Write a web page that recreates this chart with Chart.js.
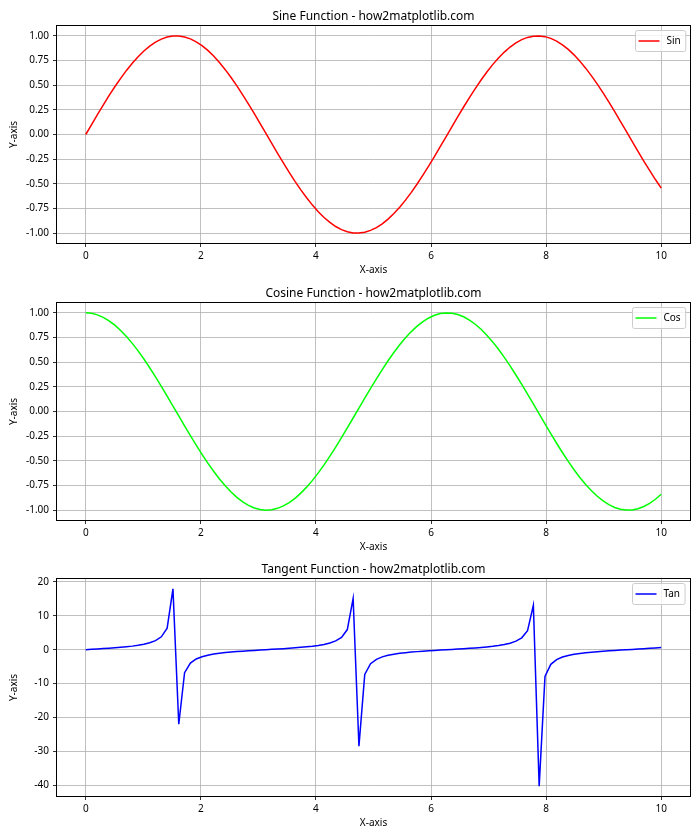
<!DOCTYPE html>
<html>
<head>
<meta charset="utf-8">
<script src="https://cdn.jsdelivr.net/npm/chart.js@4.4.0/dist/chart.umd.min.js"></script>
<style>
  body { margin: 0; background: #fff; width: 700px; height: 840px; position: relative; overflow: hidden; }
  canvas { position: absolute; left: 0; }
</style>
</head>
<body>
<canvas id="sinChart" width="700" height="277" style="top:0px"></canvas>
<canvas id="cosChart" width="700" height="277" style="top:277px"></canvas>
<canvas id="tanChart" width="700" height="277" style="top:553px"></canvas>
<script>
// x positions (0..10, 100 samples)
var xs = [
  0, 0.101, 0.202, 0.303, 0.404, 0.505, 0.606, 0.707, 0.808, 0.909,
  1.010, 1.111, 1.212, 1.313, 1.414, 1.515, 1.616, 1.717, 1.818, 1.919,
  2.020, 2.121, 2.222, 2.323, 2.424, 2.525, 2.626, 2.727, 2.828, 2.929,
  3.030, 3.131, 3.232, 3.333, 3.434, 3.535, 3.636, 3.737, 3.838, 3.939,
  4.040, 4.141, 4.242, 4.343, 4.444, 4.545, 4.646, 4.747, 4.848, 4.949,
  5.051, 5.152, 5.253, 5.354, 5.455, 5.556, 5.657, 5.758, 5.859, 5.960,
  6.061, 6.162, 6.263, 6.364, 6.465, 6.566, 6.667, 6.768, 6.869, 6.970,
  7.071, 7.172, 7.273, 7.374, 7.475, 7.576, 7.677, 7.778, 7.879, 7.980,
  8.081, 8.182, 8.283, 8.384, 8.485, 8.586, 8.687, 8.788, 8.889, 8.990,
  9.091, 9.192, 9.293, 9.394, 9.495, 9.596, 9.697, 9.798, 9.899, 10.000
];

var sinValues = [
  0, 0.1008, 0.2007, 0.2984, 0.3931, 0.4839, 0.5696, 0.6496, 0.7230, 0.7890,
  0.8469, 0.8962, 0.9364, 0.9670, 0.9878, 0.9985, 0.9990, 0.9893, 0.9696, 0.9399,
  0.9007, 0.8523, 0.7952, 0.7300, 0.6574, 0.5781, 0.4928, 0.4026, 0.3082, 0.2107,
  0.1111, 0.0103, -0.0906, -0.1906, -0.2886, -0.3837, -0.4748, -0.5612, -0.6418, -0.7158,
  -0.7826, -0.8414, -0.8916, -0.9327, -0.9643, -0.9861, -0.9978, -0.9994, -0.9908, -0.9720,
  -0.9434, -0.9051, -0.8576, -0.8014, -0.7370, -0.6651, -0.5864, -0.5017, -0.4120, -0.3180,
  -0.2208, -0.1213, -0.0206, 0.0804, 0.1805, 0.2787, 0.3742, 0.4658, 0.5526, 0.6338,
  0.7086, 0.7762, 0.8358, 0.8869, 0.9290, 0.9616, 0.9843, 0.9971, 0.9997, 0.9921,
  0.9744, 0.9467, 0.9094, 0.8629, 0.8075, 0.7439, 0.6727, 0.5947, 0.5106, 0.4213,
  0.3277, 0.2308, 0.1315, 0.0308, -0.0701, -0.1703, -0.2688, -0.3646, -0.4566, -0.5440
];

var cosValues = [
  1, 0.9949, 0.9797, 0.9544, 0.9195, 0.8752, 0.8219, 0.7603, 0.6909, 0.6145,
  0.5318, 0.4437, 0.3510, 0.2548, 0.1560, 0.0556, -0.0454, -0.1459, -0.2449, -0.3414,
  -0.4344, -0.5231, -0.6063, -0.6834, -0.7536, -0.8160, -0.8701, -0.9154, -0.9513, -0.9776,
  -0.9938, -0.9999, -0.9959, -0.9817, -0.9575, -0.9235, -0.8801, -0.8277, -0.7669, -0.6983,
  -0.6225, -0.5405, -0.4529, -0.3607, -0.2648, -0.1662, -0.0659, 0.0351, 0.1357, 0.2349,
  0.3317, 0.4252, 0.5143, 0.5981, 0.6759, 0.7468, 0.8100, 0.8650, 0.9112, 0.9481,
  0.9753, 0.9926, 0.9998, 0.9968, 0.9836, 0.9604, 0.9274, 0.8849, 0.8334, 0.7735,
  0.7056, 0.6306, 0.5491, 0.4620, 0.3702, 0.2747, 0.1763, 0.0761, -0.0248, -0.1255,
  -0.2249, -0.3220, -0.4158, -0.5054, -0.5899, -0.6683, -0.7399, -0.8039, -0.8598, -0.9069,
  -0.9448, -0.9730, -0.9913, -0.9995, -0.9975, -0.9854, -0.9632, -0.9312, -0.8897, -0.8391
];

var tanValues = [
  0, 0.101, 0.205, 0.313, 0.428, 0.553, 0.693, 0.854, 1.046, 1.284,
  1.593, 2.020, 2.667, 3.795, 6.331, 17.953, -22.028, -6.783, -3.960, -2.753,
  -2.073, -1.630, -1.312, -1.068, -0.872, -0.708, -0.566, -0.440, -0.324, -0.216,
  -0.112, -0.010, 0.091, 0.194, 0.301, 0.415, 0.540, 0.678, 0.837, 1.025,
  1.257, 1.557, 1.969, 2.586, 3.642, 5.934, 15.147, -28.490, -7.302, -4.138,
  -2.844, -2.129, -1.668, -1.340, -1.090, -0.891, -0.724, -0.580, -0.452, -0.335,
  -0.226, -0.122, -0.021, 0.081, 0.183, 0.290, 0.403, 0.526, 0.663, 0.819,
  1.004, 1.231, 1.522, 1.920, 2.509, 3.501, 5.584, 13.097, -40.305, -7.906,
  -4.333, -2.940, -2.187, -1.707, -1.369, -1.113, -0.909, -0.740, -0.594, -0.465,
  -0.347, -0.237, -0.133, -0.031, 0.070, 0.173, 0.279, 0.392, 0.513, 0.648
];

// tick labels
var xTicks = [0, 2, 4, 6, 8, 10];
var trigTicks = [-1.00, -0.75, -0.50, -0.25, 0.00, 0.25, 0.50, 0.75, 1.00];
var tanTicks = [-40, -30, -20, -10, 0, 10, 20];

var FONT = "'Noto Sans', 'DejaVu Sans', sans-serif";
Chart.defaults.font.family = FONT;
Chart.defaults.color = '#000';

// axes frame + matplotlib style legend inside the plot
var framePlugin = {
  id: 'frame',
  afterDraw: function(chart) {
    var ctx = chart.ctx, a = chart.chartArea;
    ctx.save();
    ctx.strokeStyle = '#000';
    ctx.lineWidth = 1;
    var l = Math.round(a.left) - 0.5, t = Math.round(a.top) - 0.5;
    var r = Math.round(a.right) + 0.5, b = Math.round(a.bottom) + 0.5;
    ctx.strokeRect(l, t, r - l, b - t);

    var ds = chart.data.datasets[0];
    ctx.font = '10px ' + FONT;
    var tw = ctx.measureText(ds.label).width;
    var w = 3 + 21 + 7 + tw + 5, h = 21;
    var bx = Math.round(a.right - 5 - w) + 0.5, by = Math.round(a.top + 4) + 0.5;
    ctx.beginPath();
    ctx.roundRect(bx, by, w, h, 2);
    ctx.fillStyle = 'rgba(255,255,255,0.8)';
    ctx.fill();
    ctx.strokeStyle = '#cccccc';
    ctx.stroke();
    ctx.beginPath();
    ctx.strokeStyle = ds.borderColor;
    ctx.lineWidth = 1.5;
    ctx.moveTo(bx + 3, by + h / 2);
    ctx.lineTo(bx + 24, by + h / 2);
    ctx.stroke();
    ctx.fillStyle = '#000';
    ctx.textBaseline = 'middle';
    ctx.fillText(ds.label, bx + 31, by + h / 2);
    ctx.restore();
  }
};

function makeChart(id, title, label, color, ys, yTicks, yMin, yMax, digits) {
  return new Chart(document.getElementById(id), {
    type: 'line',
    data: {
      datasets: [{
        label: label,
        data: xs.map(function(x, i) { return { x: x, y: ys[i] }; }),
        borderColor: color,
        borderWidth: 1.5,
        pointRadius: 0,
        fill: false,
        tension: 0
      }]
    },
    options: {
      responsive: false,
      animation: false,
      layout: { padding: { left: 0, right: 10, top: 0, bottom: 0 } },
      plugins: {
        legend: { display: false },
        tooltip: { enabled: false },
        title: {
          display: true, text: title, fullSize: false, color: '#000',
          font: { size: 12, weight: 'normal' }, padding: { top: 9, bottom: 2.6 }
        }
      },
      scales: {
        x: {
          type: 'linear', min: -0.5, max: 10.5,
          afterBuildTicks: function(s) { s.ticks = xTicks.map(function(v) { return { value: v }; }); },
          afterFit: function(s) { s.height = 34; },
          ticks: { color: '#000', font: { size: 10 }, padding: 3, maxRotation: 0, autoSkip: false,
                   callback: function(v) { return String(v); } },
          grid: { color: '#b0b0b0', lineWidth: 0.8, tickColor: '#000', tickLength: 4 },
          border: { display: false },
          title: { display: true, text: 'X-axis', color: '#000', font: { size: 10 }, padding: { top: 0, bottom: 1 } }
        },
        y: {
          type: 'linear', min: yMin, max: yMax,
          afterBuildTicks: function(s) { s.ticks = yTicks.map(function(v) { return { value: v }; }); },
          afterFit: function(s) { s.width = 57; },
          ticks: { color: '#000', font: { size: 10 }, padding: 4, autoSkip: false,
                   callback: function(v) { return v.toFixed(digits); } },
          grid: { color: '#b0b0b0', lineWidth: 0.8, tickColor: '#000', tickLength: 4 },
          border: { display: false },
          title: { display: true, text: 'Y-axis', color: '#000', font: { size: 10 }, padding: { top: 8, bottom: 0 } }
        }
      }
    },
    plugins: [framePlugin]
  });
}

makeChart('sinChart', 'Sine Function - how2matplotlib.com', 'Sin', '#ff0000', sinValues, trigTicks, -1.1, 1.1, 2);
makeChart('cosChart', 'Cosine Function - how2matplotlib.com', 'Cos', '#00ff00', cosValues, trigTicks, -1.1, 1.1, 2);
makeChart('tanChart', 'Tangent Function - how2matplotlib.com', 'Tan', '#0000ff', tanValues, tanTicks, -43.22, 20.87, 0);
</script>
</body>
</html>
